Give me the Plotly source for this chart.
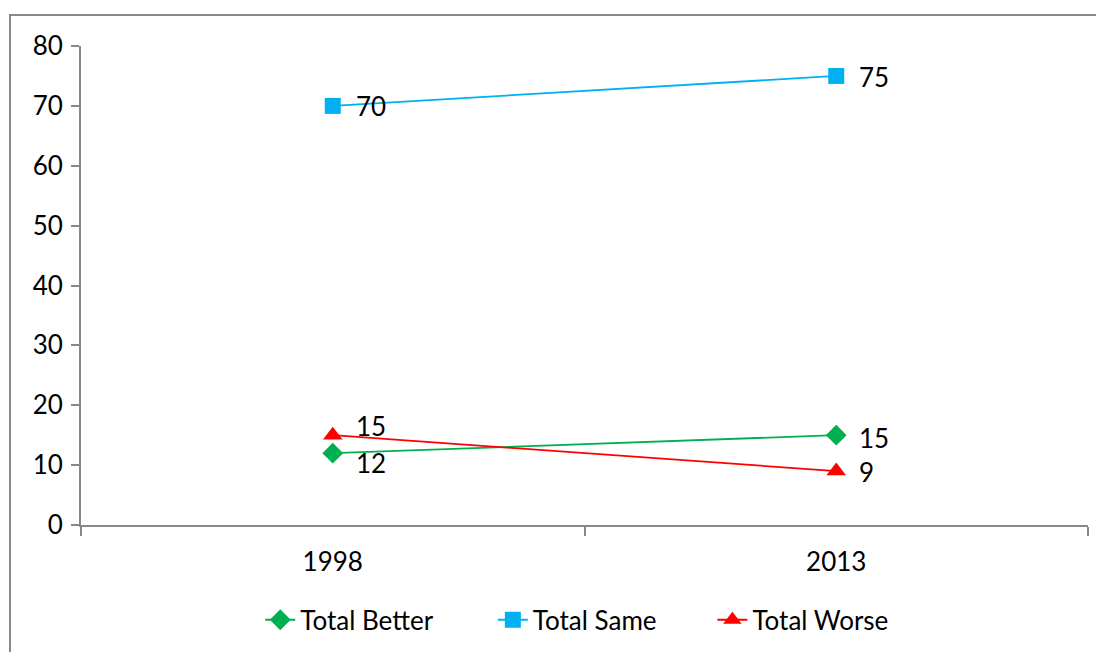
import plotly.graph_objects as go

years = ["1998", "2013"]
series_names = ["Total Better", "Total Same", "Total Worse"]
total_better = [12, 15]
total_same = [70, 75]
total_worse = [15, 9]

colors = ["#00B050", "#00B0F0", "#FF0000"]
symbols = ["diamond", "square", "triangle-up"]
sizes = [16, 16, 17]
values = [total_better, total_same, total_worse]
# per-point label vertical shifts (pixels, positive = up)
label_yshift = [[-10, -3], [0, -1], [9, -1]]
legend_x = [0.178, 0.409, 0.627]

FONT = "Lato"
FS = 26

fig = go.Figure()
for i, (name, vals, col, sym, sz) in enumerate(zip(series_names, values, colors, symbols, sizes)):
    fig.add_trace(go.Scatter(
        x=years, y=vals, name=name, mode="lines+markers",
        line=dict(color=col, width=1.8),
        marker=dict(symbol=sym, size=sz, color=col, line=dict(width=0)),
        legend="legend" if i == 0 else f"legend{i+1}",
    ))

annotations = []
for vals, shifts in zip(values, label_yshift):
    for idx, (yv, ys) in enumerate(zip(vals, shifts)):
        annotations.append(dict(
            x=idx, y=yv, xref="x", yref="y", text=str(yv), showarrow=False,
            xanchor="left", yanchor="middle", xshift=21, yshift=ys,
            font=dict(family=FONT, size=FS, color="black"),
        ))

legend_common = dict(orientation="h", xanchor="left", y=-0.198, yanchor="middle",
                     font=dict(family=FONT, size=FS, color="black"), bgcolor="rgba(0,0,0,0)")

fig.update_layout(
    width=1104, height=652,
    margin=dict(l=73, r=24, t=38, b=135, autoexpand=False),
    paper_bgcolor="white", plot_bgcolor="white",
    font=dict(family=FONT, size=FS, color="black"),
    showlegend=True,
    legend=dict(x=legend_x[0], **legend_common),
    legend2=dict(x=legend_x[1], **legend_common),
    legend3=dict(x=legend_x[2], **legend_common),
    annotations=annotations,
    shapes=[dict(type="rect", xref="paper", yref="paper",
                 x0=-0.0705, x1=1.2, y0=-0.4, y1=1.0647,
                 line=dict(color="#888888", width=2), layer="below")],
)
fig.update_xaxes(type="category", range=[-0.5, 1.5], showline=True, linecolor="#888888",
                 linewidth=2, ticks="outside", tickson="boundaries", ticklen=9,
                 tickcolor="#888888", tickwidth=2, showgrid=False, zeroline=False,
                 ticklabelstandoff=13, automargin=False)
fig.update_yaxes(range=[0, 80], dtick=10, showline=True, linecolor="#888888",
                 linewidth=2, ticks="outside", ticklen=8, tickcolor="#888888",
                 tickwidth=2, showgrid=False, zeroline=False, ticklabelstandoff=3,
                 automargin=False)

fig.write_html("out.html")
